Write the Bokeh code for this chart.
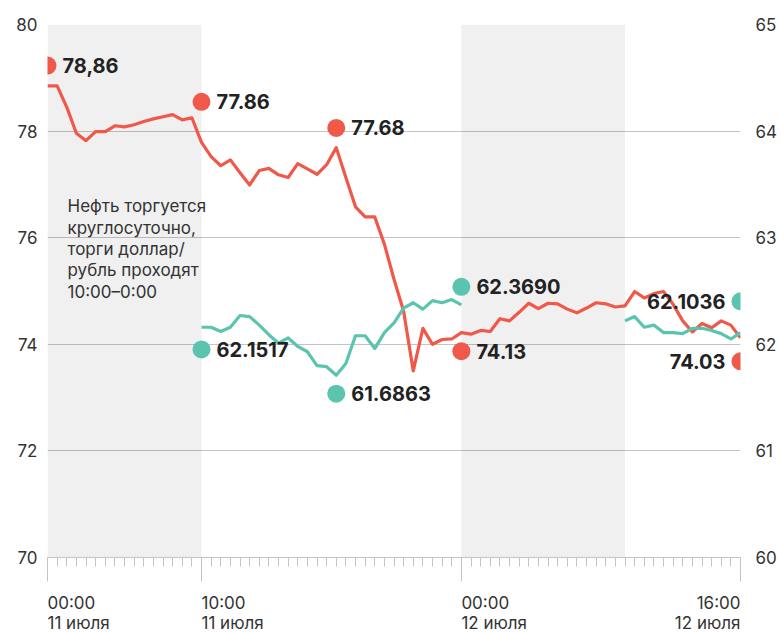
import numpy as np
from bokeh.plotting import figure
from bokeh.layouts import column
from bokeh.models import Range1d, LinearAxis, FixedTicker, BoxAnnotation
from bokeh.embed import file_html
from bokeh.resources import INLINE
from bokeh.core.properties import value

# ---------------- data ----------------
# Brent oil, USD per barrel (left axis), one point per step of the x axis
oil = [78.85, 78.85, 78.45, 77.96, 77.82, 77.99, 77.99, 78.10, 78.08, 78.12,
       78.18, 78.23, 78.27, 78.31, 78.21, 78.25, 77.79, 77.52, 77.35, 77.46,
       77.22, 76.99, 77.26, 77.30, 77.18, 77.13, 77.39, 77.29, 77.19, 77.37,
       77.69, 77.13, 76.58, 76.39, 76.39, 75.88, 75.22, 74.62, 73.50, 74.30,
       74.00, 74.09, 74.10, 74.22, 74.19, 74.26, 74.24, 74.48, 74.44, 74.60,
       74.77, 74.67, 74.77, 74.76, 74.66, 74.59, 74.68, 74.78, 74.76, 74.70,
       74.72, 74.99, 74.87, 74.95, 74.99, 74.75, 74.44, 74.23, 74.39, 74.31,
       74.44, 74.36, 74.12]

nan = float("nan")
# USD/RUB (right axis); trading only 10:00-0:00
usd = ([nan] * 16 +
       [62.16, 62.16, 62.12, 62.16, 62.27, 62.26, 62.18, 62.09, 62.01, 62.06,
        61.98, 61.93, 61.80, 61.79, 61.71, 61.82, 62.08, 62.08, 61.96, 62.11,
        62.20, 62.34, 62.39, 62.33, 62.41, 62.39, 62.42, 62.37] +
       [nan] * 16 +
       [62.22, 62.26, 62.16, 62.18, 62.11, 62.11, 62.10, 62.15, 62.15, 62.13,
        62.10, 62.05, 62.11])

steps = list(range(len(oil)))

tick_idx = [0, 16, 43, 72]
tick_time = ["00:00", "10:00", "00:00", "16:00"]
tick_date = ["11 июля", "11 июля", "12 июля", "12 июля"]

night_start = [0, 43]
night_end = [16, 60]

oil_ann_idx = [0, 16, 30, 43, 72]
oil_ann_val = [78.86, 77.86, 77.68, 74.13, 74.03]
oil_ann_txt = ["78,86", "77.86", "77.68", "74.13", "74.03"]

usd_ann_idx = [16, 30, 43, 72]
usd_ann_val = [62.1517, 61.6863, 62.3690, 62.1036]
usd_ann_txt = ["62.1517", "61.6863", "62.3690", "62.1036"]

note_lines = ["Нефть торгуется", "круглосуточно,", "торги доллар/",
              "рубль проходят", "10:00–0:00"]

# ---------------- layout / style ----------------
RED = "#F0584A"
GREEN = "#5BC4AE"
TXT = "#222222"
AX = "#333333"
GRID = "#c4c4c4"
FONT = "Inter"
W = 781
LB, RB = 47, 41

oil_dy = [0.37, 0.69, 0.38, -0.26, -0.35]      # marker shift from value (left units)
usd_dy = [-0.20, -0.15, 0.17, 0.30]            # marker shift (right units)
ann_side = {72: "left"}

p = figure(width=W, height=587, x_range=Range1d(0, 72), y_range=Range1d(70, 80),
           output_backend="svg", toolbar_location=None,
           min_border_left=LB, min_border_right=RB, min_border_top=24,
           min_border_bottom=30)
p.extra_y_ranges = {"usd": Range1d(60, 65)}
p.outline_line_color = None

# shading (nights)
for s, e in zip(night_start, night_end):
    p.add_layout(BoxAnnotation(left=s, right=e, fill_color="black", fill_alpha=0.06,
                               line_color=None, level="underlay"))

# grid
p.xgrid.visible = False
p.ygrid.ticker = FixedTicker(ticks=list(range(72, 81, 2)))
p.ygrid.grid_line_color = GRID
p.ygrid.grid_line_width = 1


def style_y(ax, standoff):
    ax.axis_line_color = None
    ax.major_tick_line_color = None
    ax.minor_tick_line_color = None
    ax.major_tick_out = 0
    ax.minor_tick_out = 0
    ax.major_tick_in = 0
    ax.minor_tick_in = 0
    ax.major_label_standoff = standoff
    ax.major_label_text_font = FONT
    ax.major_label_text_font_size = "17px"
    ax.major_label_text_color = AX


# left axis
ya = p.yaxis[0]
ya.ticker = FixedTicker(ticks=list(range(70, 81, 2)))
style_y(ya, 10)

# right axis
ra = LinearAxis(y_range_name="usd", ticker=FixedTicker(ticks=list(range(60, 66))))
style_y(ra, 15)
p.add_layout(ra, "right")

# bottom axis (tick marks only; labels drawn in the strip below)
xa = p.xaxis[0]
xa.ticker = FixedTicker(ticks=tick_idx, minor_ticks=steps)
xa.axis_line_color = GRID
xa.major_tick_line_color = GRID
xa.minor_tick_line_color = GRID
xa.major_tick_in = 0
xa.major_tick_out = 24
xa.minor_tick_in = 0
xa.minor_tick_out = 9
xa.major_label_overrides = {t: "" for t in tick_idx}
xa.major_label_text_font_size = "1px"
xa.major_label_standoff = 0

# lines
p.line(steps, oil, line_color=RED, line_width=3.2, line_join="round")
p.line(steps, usd, line_color=GREEN, line_width=3.2, line_join="round", y_range_name="usd")

# annotation markers + labels
oy = [v + d for v, d in zip(oil_ann_val, oil_dy)]
uy = [v + d for v, d in zip(usd_ann_val, usd_dy)]
p.scatter(oil_ann_idx, oy, size=18, fill_color=RED, line_color=None)
p.scatter(usd_ann_idx, uy, size=18, fill_color=GREEN, line_color=None, y_range_name="usd")


def add_labels(idx, ys, txts, rng):
    for i, y, t in zip(idx, ys, txts):
        left = ann_side.get(i) == "left"
        kw = {} if rng is None else {"y_range_name": rng}
        p.text([i], [y], text=[t], text_align="right" if left else "left",
               text_baseline="middle", x_offset=-15 if left else 15,
               text_font=value(FONT), text_font_style="bold",
               text_font_size="20px", text_color=TXT, **kw)


add_labels(oil_ann_idx, oy, oil_ann_txt, None)
add_labels(usd_ann_idx, uy, usd_ann_txt, "usd")

# note
note_y = [76.59 - 0.40 * k for k in range(len(note_lines))]
p.text([2.08] * len(note_lines), note_y, text=note_lines, text_align="left",
       text_baseline="middle", text_font=value(FONT), text_font_size="17px",
       text_color=AX)

# ---------------- strip with the time labels ----------------
p2 = figure(width=W, height=45, x_range=p.x_range, y_range=Range1d(0, 45),
            output_backend="svg", toolbar_location=None,
            min_border_left=LB, min_border_right=RB, min_border_top=0,
            min_border_bottom=0, x_axis_location=None, y_axis_location=None)
p2.grid.visible = False
p2.outline_line_color = None
aligns = ["left"] * (len(tick_idx) - 1) + ["right"]
p2.text(tick_idx, [30] * len(tick_idx), text=tick_time, text_align=aligns,
        text_baseline="middle", text_font=value(FONT), text_font_size="17px",
        text_color=AX)
p2.text(tick_idx, [10] * len(tick_idx), text=tick_date, text_align=aligns,
        text_baseline="middle", text_font=value(FONT), text_font_size="17px",
        text_color=AX)

layout = column(p, p2, spacing=0)
open("out.html", "w").write(file_html(layout, INLINE))
